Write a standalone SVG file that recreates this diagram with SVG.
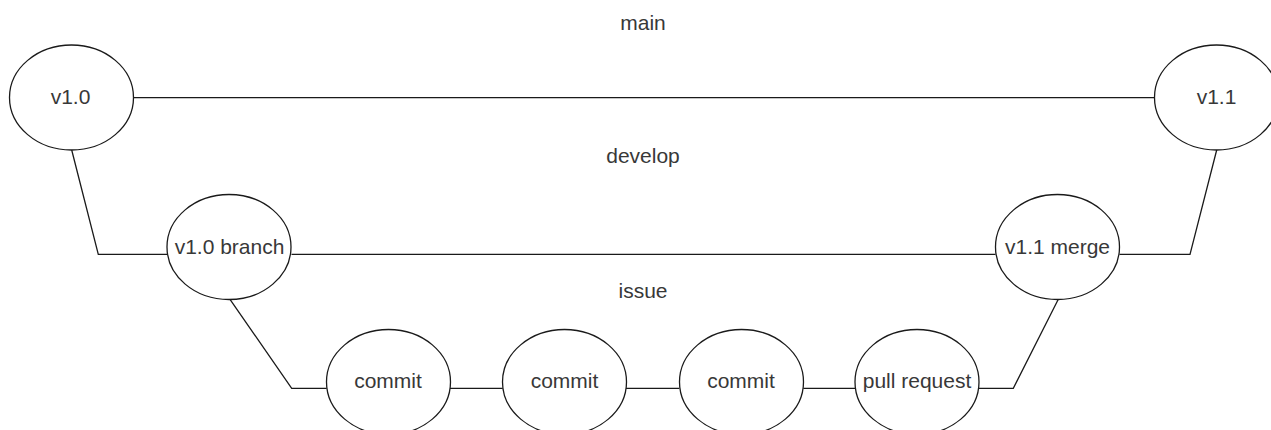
<svg xmlns="http://www.w3.org/2000/svg" width="1271" height="430" viewBox="0 0 1271 430">
<style>
.n ellipse{fill:#fff;stroke:#1a1a1a;stroke-width:1.3}
.n text,.lbl{font-family:"Liberation Sans",Arial,sans-serif;font-size:21px;fill:#383838;text-anchor:middle}
#edges path{fill:none;stroke:#1a1a1a;stroke-width:1.3}
</style>
<rect width="1271" height="430" fill="#fff"/>
<g id="edges">
<path d="M133.5 97.7H1154.5"/>
<path d="M71.7 150L98.3 254.3H167"/>
<path d="M291.5 254.3H995.5"/>
<path d="M1216.7 150L1190 254.3H1119.5"/>
<path d="M230 299.3L291.7 388.3H326.7"/>
<path d="M450 388.3H502.7"/>
<path d="M626 388.3H679.3"/>
<path d="M803.3 388.3H855"/>
<path d="M979 388.3H1013.3L1058.3 299.3"/>
</g>
<g id="labels">
<text class="lbl" x="643" y="29.5">main</text>
<text class="lbl" x="643" y="162.5">develop</text>
<text class="lbl" x="643" y="297.5">issue</text>
</g>
<g id="v10" class="n"><ellipse cx="71.5" cy="97.5" rx="62" ry="52.5"/><text x="70.5" y="104">v1.0</text></g>
<g id="v11" class="n"><ellipse cx="1216.5" cy="97.5" rx="62" ry="52.5"/><text x="1216.5" y="104">v1.1</text></g>
<g id="v10branch" class="n"><ellipse cx="229" cy="247" rx="62" ry="52.5"/><text x="229.5" y="254">v1.0 branch</text></g>
<g id="v11merge" class="n"><ellipse cx="1057.5" cy="247" rx="62" ry="52.5"/><text x="1057.5" y="254">v1.1 merge</text></g>
<g id="commit1" class="n"><ellipse cx="388.5" cy="382" rx="62" ry="52.5"/><text x="388" y="388">commit</text></g>
<g id="commit2" class="n"><ellipse cx="564.5" cy="382" rx="62" ry="52.5"/><text x="564.5" y="388">commit</text></g>
<g id="commit3" class="n"><ellipse cx="741.5" cy="382" rx="62" ry="52.5"/><text x="741" y="388">commit</text></g>
<g id="pullrequest" class="n"><ellipse cx="917" cy="382" rx="62" ry="52.5"/><text x="917" y="388">pull request</text></g>
</svg>
